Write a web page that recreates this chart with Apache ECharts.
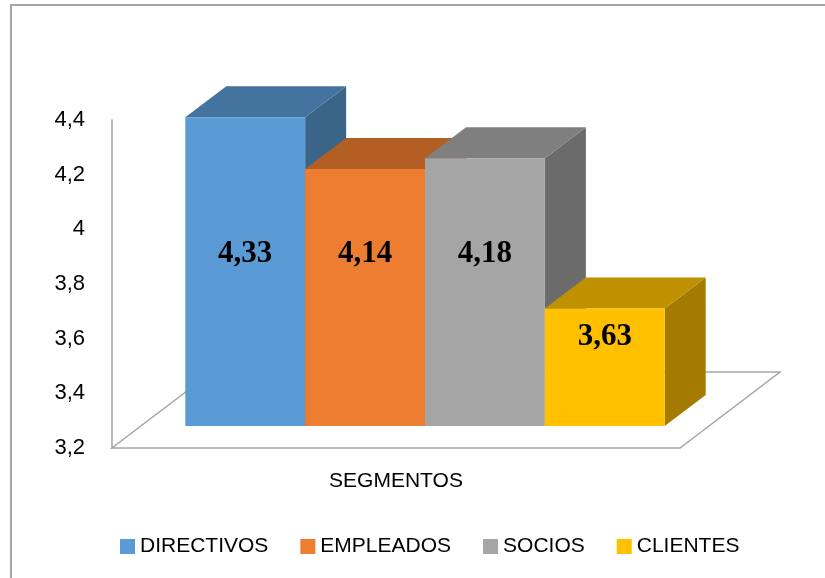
<!DOCTYPE html>
<html>
<head>
<meta charset="utf-8">
<script src="https://cdn.jsdelivr.net/npm/echarts@6/dist/echarts.min.js"></script>
<style>
  html, body { margin: 0; padding: 0; background: #fff; }
  #main { width: 825px; height: 578px; }
</style>
</head>
<body>
<div id="main"></div>
<script>
// datos del gráfico
var categorias = ['SEGMENTOS'];
var series = ['DIRECTIVOS', 'EMPLEADOS', 'SOCIOS', 'CLIENTES'];
var valores = [4.33, 4.14, 4.18, 3.63];
var ejeY = { min: 3.2, max: 4.4, interval: 0.2 };

// colores: frente, tapa, lado
var colores = [
  ['#5b9bd5', '#44739f', '#3a6488'],
  ['#ed7d31', '#b35e22', '#9c521d'],
  ['#a5a5a5', '#7f7f7f', '#6b6b6b'],
  ['#ffc000', '#bf9000', '#a47b00']
];

var PLANO = [29, -22];   // desplazamiento del plano de las barras sobre el suelo
var FONDO = [41, -31];   // profundidad de cada barra
var SUELO = [100, -76];  // profundidad del suelo
var ANCHO = 0.211;       // ancho de barra respecto a la categoría
var NIVEL_ETIQUETA = 3.83;

var myChart = echarts.init(document.getElementById('main'));

function coma(v) {
  return String(Math.round(v * 100) / 100).replace('.', ',');
}

function renderSuelo(params, api) {
  var cs = params.coordSys;
  var x0 = cs.x, x1 = cs.x + cs.width, y0 = cs.y + cs.height;
  return {
    type: 'polygon',
    silent: true,
    shape: {
      points: [[x0, y0], [x1, y0], [x1 + SUELO[0], y0 + SUELO[1]], [x0 + SUELO[0], y0 + SUELO[1]]]
    },
    style: { fill: '#fff', stroke: '#a6a6a6', lineWidth: 1.5 }
  };
}

function renderBarra(idx) {
  return function (params, api) {
    var cat = api.value(0);
    var val = api.value(1);
    var base = api.coord([cat, ejeY.min]);
    var top = api.coord([cat, val]);
    var ancho = api.size([1, 0])[0] * ANCHO;
    var cx = base[0] + (idx - (series.length - 1) / 2) * ancho + PLANO[0];
    var xl = cx - ancho / 2, xr = cx + ancho / 2;
    var yb = base[1] + PLANO[1], yt = top[1] + PLANO[1];
    var dx = FONDO[0], dy = FONDO[1];
    var c = colores[idx];
    var yEt = Math.max(api.coord([cat, NIVEL_ETIQUETA])[1] + PLANO[1], yt + 29);
    return {
      type: 'group',
      children: [
        {
          type: 'polygon',
          shape: { points: [[xr, yb], [xr + dx, yb + dy], [xr + dx, yt + dy], [xr, yt]] },
          style: { fill: c[2] }
        },
        {
          type: 'polygon',
          shape: { points: [[xl, yt], [xr, yt], [xr + dx, yt + dy], [xl + dx, yt + dy]] },
          style: { fill: c[1] }
        },
        {
          type: 'rect',
          shape: { x: xl, y: yt, width: ancho, height: yb - yt },
          style: { fill: c[0] }
        },
        {
          type: 'text',
          style: {
            x: cx, y: yEt,
            text: coma(val),
            fill: '#000',
            font: 'bold 31px "Liberation Serif", "Times New Roman", serif',
            align: 'center',
            verticalAlign: 'middle'
          }
        }
      ]
    };
  };
}

var lista = [{
  type: 'custom',
  name: 'suelo',
  renderItem: renderSuelo,
  data: [[0, ejeY.min]],
  silent: true,
  z: 1
}];
for (var i = 0; i < series.length; i++) {
  lista.push({
    type: 'custom',
    name: series[i],
    renderItem: renderBarra(i),
    itemStyle: { color: colores[i][0] },
    data: [[0, valores[i]]],
    z: 2 + i
  });
}

var option = {
  animation: false,
  graphic: [{
    type: 'polyline',
    shape: { points: [[11, 600], [11, 5], [840, 5]] },
    style: { stroke: '#a6a6a6', lineWidth: 2, fill: null }
  }],
  grid: { left: 112, right: 145, top: 120, bottom: 130 },
  legend: {
    data: series,
    left: 115,
    top: 531,
    icon: 'rect',
    itemWidth: 15,
    itemHeight: 15,
    itemGap: 32,
    textStyle: { fontFamily: '"Liberation Sans", Arial, sans-serif', fontSize: 21, color: '#000' }
  },
  xAxis: {
    type: 'category',
    data: categorias,
    axisLine: { show: false },
    axisTick: { show: false },
    axisLabel: {
      margin: 23,
      fontFamily: '"Liberation Sans", Arial, sans-serif',
      fontSize: 21,
      color: '#000'
    }
  },
  yAxis: {
    type: 'value',
    min: ejeY.min,
    max: ejeY.max,
    interval: ejeY.interval,
    splitLine: { show: false },
    axisTick: { show: false },
    axisLine: { show: true, lineStyle: { color: '#a6a6a6', width: 1.5 } },
    axisLabel: {
      margin: 27,
      fontFamily: '"Liberation Sans", Arial, sans-serif',
      fontSize: 22,
      color: '#000',
      formatter: function (v) { return coma(v); }
    }
  },
  series: lista
};
myChart.setOption(option);
window.onresize = myChart.resize;
</script>
</body>
</html>
